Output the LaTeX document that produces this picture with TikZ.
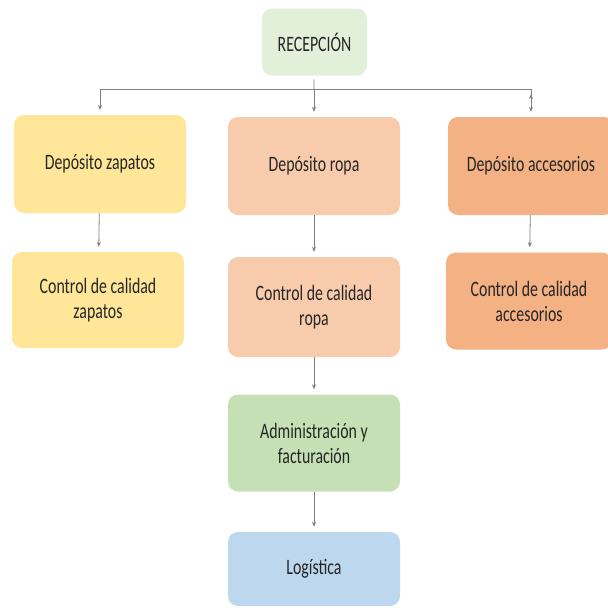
\documentclass[tikz,border=0pt]{standalone}
\usepackage{fontspec}
\setmainfont{Carlito}[FakeStretch=0.72]
\usepackage{tikz}
\usetikzlibrary{arrows.meta,calc,positioning}
\definecolor{recgreen}{HTML}{E2EFD9}
\definecolor{zapyellow}{HTML}{FFE699}
\definecolor{ropapeach}{HTML}{F8CBAD}
\definecolor{accorange}{HTML}{F4B183}
\definecolor{admgreen}{HTML}{C5E0B4}
\definecolor{logblue}{HTML}{BDD7EE}
\definecolor{linkgray}{HTML}{7F7F7F}
\definecolor{txtgray}{HTML}{262626}
\tikzset{
  area/.style={rounded corners=10pt,align=center,text=txtgray,font=\fontsize{22}{25}\selectfont,
    inner sep=0pt,minimum width=172pt,minimum height=98pt},
  link/.style={draw=linkgray,line width=0.8pt},
}
\begin{document}
\begin{tikzpicture}[x=1pt,y=-1pt]
\useasboundingbox (0,0) rectangle (608,608);
\node[area,fill=recgreen,minimum width=105pt,minimum height=67pt] (rec) at (314.5,42) {RECEPCIÓN};
\node[area,fill=zapyellow] (zap) at (100,164) {Depósito zapatos};
\node[area,fill=ropapeach] (ropa) at (314,166) {Depósito ropa};
\node[area,fill=accorange,minimum width=166pt] (acc) at (531,166) {Depósito accesorios};
\node[area,fill=zapyellow,minimum height=96pt] (cz) at (98,300) {Control de calidad\\zapatos};
\node[area,fill=ropapeach,minimum height=100pt] (cr) at (314,307) {Control de calidad\\ropa};
\node[area,fill=accorange,minimum width=166pt,minimum height=97pt] (ca) at (529,301) {Control de calidad\\accesorios};
\node[area,fill=admgreen,minimum height=97pt] (adm) at (314,443) {Administración y\\facturación};
\node[area,fill=logblue,minimum height=74pt] (log) at (314,569) {Logística};
\coordinate (fork) at (314,89);
\draw[link,shorten <=4pt] (rec) -- (fork);
\draw[link] (fork -| zap) -- (fork -| acc);
\path[link,-{Stealth[length=5pt,width=4pt]},shorten >=5pt]
(fork -| zap) edge (zap)
(fork) edge (ropa)
(fork -| acc) edge (acc)
(zap) edge (cz)
(ropa) edge (cr)
(acc) edge (ca)
(cr) edge (adm)
(adm) edge (log);
\end{tikzpicture}
\end{document}
